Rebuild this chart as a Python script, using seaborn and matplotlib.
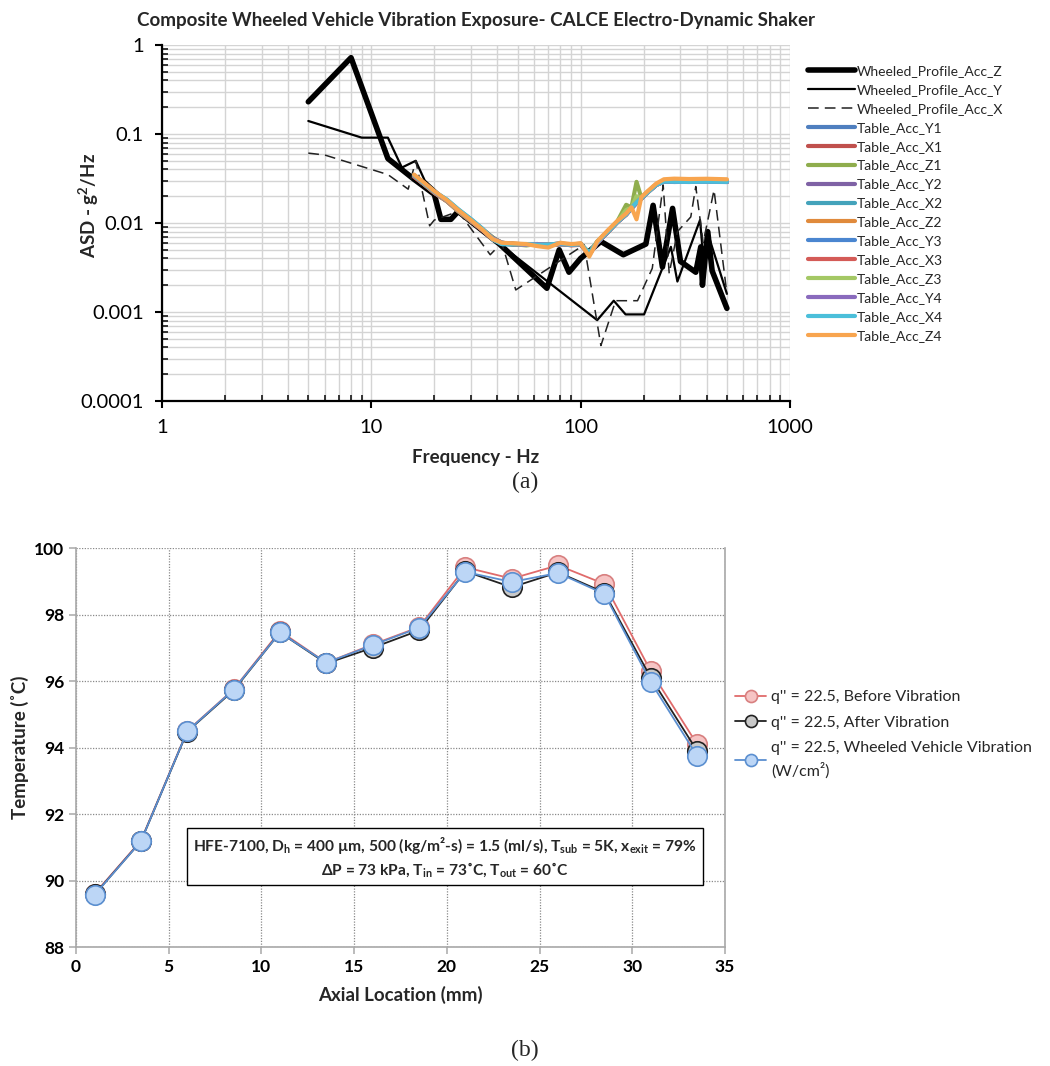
import numpy as np
import pandas as pd
import seaborn as sns
import matplotlib.pyplot as plt
from matplotlib.ticker import FixedLocator, FixedFormatter, LogLocator, NullFormatter

# --- data: (a) vibration profiles ---
z_freq = [5, 8, 12, 16, 20, 21.5, 24, 26, 41, 69, 79, 88, 100, 125, 160, 205, 222, 246, 275, 300,
          355, 375, 382, 405, 425, 500]
z_asd = [0.23, 0.72, 0.053, 0.031, 0.021, 0.011, 0.011, 0.0135, 0.0058, 0.00185, 0.0050, 0.0028,
         0.0040, 0.0062, 0.0044, 0.0058, 0.0158, 0.0032, 0.0146, 0.0037, 0.0028, 0.0054, 0.0020,
         0.0080, 0.0029, 0.0011]

y_freq = [5, 9, 12, 14, 16.3, 18, 26, 41, 120, 144, 164, 201, 270, 290, 372, 390, 410, 500]
y_asd = [0.14, 0.091, 0.091, 0.042, 0.050, 0.030, 0.0135, 0.0058, 0.00081, 0.00134, 0.00094,
         0.00094, 0.0054, 0.0022, 0.0108, 0.0030, 0.0070, 0.0016]

x_freq = [5, 6, 12, 15, 16.3, 19, 20, 26, 37, 42, 49, 104, 125, 147, 187, 220, 248, 265, 290, 336,
          355, 385, 434, 500]
x_asd = [0.061, 0.058, 0.035, 0.024, 0.050, 0.0093, 0.0108, 0.0135, 0.0044, 0.0060, 0.00177, 0.0057,
         0.00042, 0.00134, 0.00134, 0.0031, 0.0267, 0.0027, 0.0080, 0.0117, 0.0257, 0.0060, 0.0235,
         0.0016]

tbl_freq = [16, 18, 20, 23, 26, 30, 34, 38, 42, 48, 55, 62, 70, 80, 90, 100, 110, 120, 135, 150,
            165, 175, 185, 195, 210, 230, 250, 280, 330, 400, 500]
tbl_y1 = [0.034, 0.027, 0.022, 0.0178, 0.0138, 0.0106, 0.0084, 0.0067, 0.0060, 0.0058, 0.0057, 0.0058,
          0.0056, 0.0058, 0.0057, 0.0058, 0.0046, 0.0061, 0.0080, 0.0104, 0.0126, 0.0148, 0.0170,
          0.0190, 0.0225, 0.0270, 0.0295, 0.0290, 0.0292, 0.0290, 0.0289]
tbl_x1 = [0.033, 0.027, 0.0218, 0.0175, 0.0136, 0.0104, 0.0083, 0.0066, 0.0059, 0.0057, 0.0058, 0.0057,
          0.0057, 0.0059, 0.0056, 0.0057, 0.0045, 0.0060, 0.0079, 0.0102, 0.0124, 0.0146, 0.0168,
          0.0188, 0.0222, 0.0268, 0.0292, 0.0292, 0.0290, 0.0291, 0.0290]
tbl_z1 = [0.034, 0.0272, 0.0222, 0.0177, 0.0137, 0.0105, 0.0085, 0.0069, 0.0060, 0.0058, 0.0056, 0.0058,
          0.0057, 0.0058, 0.0057, 0.0058, 0.0046, 0.0062, 0.0081, 0.0105, 0.0160, 0.0150, 0.0290,
          0.0192, 0.0226, 0.0270, 0.0296, 0.0300, 0.0298, 0.0299, 0.0297]
tbl_y2 = [0.0345, 0.0275, 0.0225, 0.0180, 0.0140, 0.0108, 0.0085, 0.0068, 0.0060, 0.0058, 0.0057, 0.0057,
          0.0057, 0.0058, 0.0058, 0.0057, 0.0044, 0.0060, 0.0080, 0.0103, 0.0125, 0.0147, 0.0169,
          0.0189, 0.0224, 0.0269, 0.0293, 0.0289, 0.0291, 0.0290, 0.0291]
tbl_x2 = [0.034, 0.0272, 0.0224, 0.0182, 0.0142, 0.0110, 0.0086, 0.0065, 0.0058, 0.0057, 0.0058, 0.0058,
          0.0056, 0.0058, 0.0057, 0.0058, 0.0046, 0.0061, 0.0079, 0.0103, 0.0125, 0.0147, 0.0169,
          0.0190, 0.0223, 0.0268, 0.0291, 0.0291, 0.0289, 0.0292, 0.0289]
tbl_z2 = [0.0335, 0.0268, 0.0220, 0.0176, 0.0136, 0.0105, 0.0083, 0.0066, 0.0059, 0.0059, 0.0057, 0.0058,
          0.0057, 0.0059, 0.0057, 0.0059, 0.0045, 0.0061, 0.0081, 0.0104, 0.0126, 0.0149, 0.0171,
          0.0191, 0.0226, 0.0272, 0.0298, 0.0300, 0.0300, 0.0301, 0.0300]
tbl_y3 = [0.0338, 0.0271, 0.0223, 0.0179, 0.0139, 0.0107, 0.0084, 0.0067, 0.0059, 0.0058, 0.0058, 0.0057,
          0.0057, 0.0058, 0.0057, 0.0058, 0.0045, 0.0060, 0.0080, 0.0103, 0.0125, 0.0147, 0.0169,
          0.0189, 0.0224, 0.0269, 0.0294, 0.0291, 0.0290, 0.0291, 0.0290]
tbl_x3 = [0.0332, 0.0269, 0.0219, 0.0176, 0.0137, 0.0105, 0.0083, 0.0066, 0.0059, 0.0058, 0.0057, 0.0058,
          0.0056, 0.0058, 0.0057, 0.0057, 0.0045, 0.0060, 0.0079, 0.0103, 0.0124, 0.0146, 0.0168,
          0.0189, 0.0223, 0.0268, 0.0292, 0.0290, 0.0291, 0.0290, 0.0290]
tbl_z3 = [0.034, 0.027, 0.0221, 0.0176, 0.0137, 0.0105, 0.0084, 0.0067, 0.0059, 0.0058, 0.0057, 0.0058,
          0.0057, 0.0058, 0.0057, 0.0058, 0.0046, 0.0061, 0.0080, 0.0104, 0.0140, 0.0148, 0.0200,
          0.0190, 0.0225, 0.0271, 0.0297, 0.0301, 0.0299, 0.0300, 0.0298]
tbl_y4 = [0.0342, 0.0273, 0.0223, 0.0178, 0.0139, 0.0106, 0.0084, 0.0067, 0.0060, 0.0058, 0.0057, 0.0058,
          0.0057, 0.0058, 0.0057, 0.0058, 0.0044, 0.0060, 0.0080, 0.0104, 0.0125, 0.0147, 0.0169,
          0.0190, 0.0224, 0.0269, 0.0293, 0.0290, 0.0290, 0.0291, 0.0290]
tbl_x4 = [0.0345, 0.0276, 0.0226, 0.0183, 0.0143, 0.0110, 0.0086, 0.0066, 0.0058, 0.0058, 0.0058, 0.0057,
          0.0057, 0.0059, 0.0057, 0.0058, 0.0046, 0.0061, 0.0080, 0.0103, 0.0125, 0.0148, 0.0170,
          0.0190, 0.0223, 0.0269, 0.0292, 0.0291, 0.0290, 0.0291, 0.0290]
tbl_z4 = [0.035, 0.028, 0.0228, 0.0180, 0.0140, 0.0107, 0.0084, 0.0066, 0.0060, 0.0059, 0.0058, 0.0055,
          0.0053, 0.0060, 0.0058, 0.0059, 0.0042, 0.0062, 0.0083, 0.0106, 0.0128, 0.0150, 0.0110,
          0.0195, 0.0230, 0.0278, 0.0310, 0.0315, 0.0312, 0.0314, 0.0310]

tbl_names = ['Table_Acc_Y1', 'Table_Acc_X1', 'Table_Acc_Z1', 'Table_Acc_Y2', 'Table_Acc_X2',
             'Table_Acc_Z2', 'Table_Acc_Y3', 'Table_Acc_X3', 'Table_Acc_Z3', 'Table_Acc_Y4',
             'Table_Acc_X4', 'Table_Acc_Z4']
tbl_vals = [tbl_y1, tbl_x1, tbl_z1, tbl_y2, tbl_x2, tbl_z2, tbl_y3, tbl_x3, tbl_z3, tbl_y4, tbl_x4, tbl_z4]
tbl_colors = ['#4f7fbf', '#c0504d', '#8fad4d', '#7f62a5', '#44a3bb', '#e08a3c',
              '#4a86d0', '#d45b57', '#a4c865', '#8a6bbd', '#4bbfda', '#f8a54f']

# --- data: (b) temperature along channel ---
axial_mm = [1, 3.5, 6, 8.5, 11, 13.5, 16, 18.5, 21, 23.5, 26, 28.5, 31, 33.5]
temp_before = [89.6, 91.2, 94.5, 95.75, 97.5, 96.55, 97.1, 97.62, 99.42, 99.08, 99.48, 98.92, 96.3, 94.1]
temp_after = [89.58, 91.18, 94.48, 95.72, 97.46, 96.53, 97.0, 97.52, 99.3, 98.82, 99.27, 98.66, 96.1, 93.9]
temp_wheeled = [89.57, 91.18, 94.49, 95.74, 97.46, 96.55, 97.08, 97.6, 99.28, 98.98, 99.25, 98.62,
                95.97, 93.75]

# --- style ---
sns.set_style("white")
plt.rcParams['font.family'] = ['Lato', 'DejaVu Sans']
plt.rcParams['mathtext.fontset'] = 'custom'
plt.rcParams['mathtext.rm'] = 'Lato'
plt.rcParams['mathtext.bf'] = 'Lato:bold'
plt.rcParams['mathtext.default'] = 'bf'

fig = plt.figure(figsize=(10.5, 10.66), dpi=100)

# ================= (a) =================
ax1 = fig.add_axes([0.1543, 0.6238, 0.598, 0.334])
sns.lineplot(x=z_freq, y=z_asd, ax=ax1, color='black', lw=4, sort=False,
             label='Wheeled_Profile_Acc_Z')
sns.lineplot(x=y_freq, y=y_asd, ax=ax1, color='black', lw=1.6, sort=False,
             label='Wheeled_Profile_Acc_Y')
sns.lineplot(x=x_freq, y=x_asd, ax=ax1, color='#222222', lw=1.1, sort=False,
             label='Wheeled_Profile_Acc_X')
ax1.lines[-1].set_linestyle((0, (7, 4)))
for name, vals, col in zip(tbl_names, tbl_vals, tbl_colors):
    sns.lineplot(x=tbl_freq, y=vals, ax=ax1, color=col, lw=3, sort=False, label=name)

ax1.set_xscale('log')
ax1.set_yscale('log')
ax1.set_xlim(1, 1000)
ax1.set_ylim(1e-4, 1)
ax1.xaxis.set_major_locator(FixedLocator([1, 10, 100, 1000]))
ax1.xaxis.set_major_formatter(FixedFormatter(['1', '10', '100', '1000']))
ax1.yaxis.set_major_locator(FixedLocator([1e-4, 1e-3, 1e-2, 1e-1, 1]))
ax1.yaxis.set_major_formatter(FixedFormatter(['0.0001', '0.001', '0.01', '0.1', '1']))
ax1.xaxis.set_minor_locator(LogLocator(base=10, subs=np.arange(2, 10)))
ax1.yaxis.set_minor_locator(LogLocator(base=10, subs=np.arange(2, 10)))
ax1.xaxis.set_minor_formatter(NullFormatter())
ax1.yaxis.set_minor_formatter(NullFormatter())
ax1.grid(True, which='both', color='#d4d4d4', lw=1.0)
ax1.set_axisbelow(True)
for s in ['top', 'right']:
    ax1.spines[s].set_visible(False)
for s in ['left', 'bottom']:
    ax1.spines[s].set_color('black')
    ax1.spines[s].set_linewidth(1.6)
ax1.tick_params(which='major', direction='out', length=5, width=1.5, labelsize=14.5, colors='black',
                left=True, bottom=True, pad=8)
ax1.tick_params(which='minor', direction='in', length=4, width=1.3, left=True, bottom=True)
ax1.set_xlabel('Frequency - Hz', fontsize=13.5, fontweight='bold')
ax1.xaxis.set_label_coords(0.5, -0.135)
ax1.set_ylabel('ASD - g$^2$/Hz', fontsize=13.5, fontweight='bold')
ax1.yaxis.set_label_coords(-0.097, 0.55)
ax1.set_title('Composite Wheeled Vehicle Vibration Exposure- CALCE Electro-Dynamic Shaker',
              fontsize=13.5, fontweight='bold', pad=14)
ax1.legend(loc='upper left', bbox_to_anchor=(1.02, 0.96), frameon=False, fontsize=10,
           handlelength=3.4, handletextpad=0.1, labelspacing=0.5, borderaxespad=0)

fig.text(0.5, 1 - 482 / 1066, '(a)', ha='center', va='center', fontsize=17,
         family='Liberation Serif')

# ================= (b) =================
ax2 = fig.add_axes([0.0724, 0.1116, 0.618, 0.3743])
series = [
    (temp_before, "q'' = 22.5, Before Vibration", '#e06b6b', '#f6c4c4', '#d88080'),
    (temp_after, "q'' = 22.5, After Vibration", '#222222', '#c9c9c9', '#222222'),
    (temp_wheeled, "q'' = 22.5, Wheeled Vehicle Vibration\n(W/cm²)", '#5b8fd0', '#bcd6f6', '#5b8fd0'),
]
for vals, lab, lc, fc, ec in series:
    sns.lineplot(x=axial_mm, y=vals, ax=ax2, color=lc, lw=1.3, sort=False, label=lab,
                 marker='o', markersize=14, markerfacecolor=fc, markeredgecolor=ec,
                 markeredgewidth=1.2)

ax2.set_xlim(0, 35)
ax2.set_ylim(88, 100)
ax2.set_xticks(range(0, 36, 5))
ax2.set_yticks(range(88, 101, 2))
ax2.grid(True, color='#8a8a8a', lw=0.9, ls=(0, (1, 1.2)))
ax2.set_axisbelow(True)
ax2.spines['top'].set_visible(False)
for s in ['left', 'bottom', 'right']:
    ax2.spines[s].set_color('#a8a8a8')
    ax2.spines[s].set_linewidth(1.2)
ax2.tick_params(direction='out', length=5, width=1.1, color='#a8a8a8', labelsize=12.5,
                labelcolor='black', left=True, bottom=True)
for lbl in ax2.get_xticklabels() + ax2.get_yticklabels():
    lbl.set_fontweight('bold')
ax2.set_xlabel('Axial Location (mm)', fontsize=13.5, fontweight='bold', labelpad=8)
ax2.set_ylabel('Temperature (˚C)', fontsize=13.5, fontweight='bold')
ax2.yaxis.set_label_coords(-0.073, 0.5)

leg = ax2.legend(loc='upper left', bbox_to_anchor=(1.005, 0.66), frameon=False, fontsize=11.5,
                 handlelength=2.0, handletextpad=0.3, labelspacing=0.72, borderaxespad=0,
                 markerscale=0.62)
leg.get_texts()[2].set_linespacing(1.5)

note = ('HFE-7100, D$_h$ = 400 µm, 500 (kg/m²-s) = 1.5 (ml/s), T$_{sub}$ = 5K, x$_{exit}$ = 79%\n'
        'ΔP = 73 kPa, T$_{in}$ = 73˚C, T$_{out}$ = 60˚C')
ax2.text(0.5686, 0.2256, note, transform=ax2.transAxes, ha='center', va='center', fontsize=11.2,
         fontweight='bold', linespacing=1.3,
         bbox=dict(boxstyle='square,pad=0.4', facecolor='white', edgecolor='black', lw=1.0))

fig.text(0.5, 1 - 1050 / 1066, '(b)', ha='center', va='center', fontsize=17,
         family='Liberation Serif')

plt.savefig('out.png', dpi=100)
plt.close()
